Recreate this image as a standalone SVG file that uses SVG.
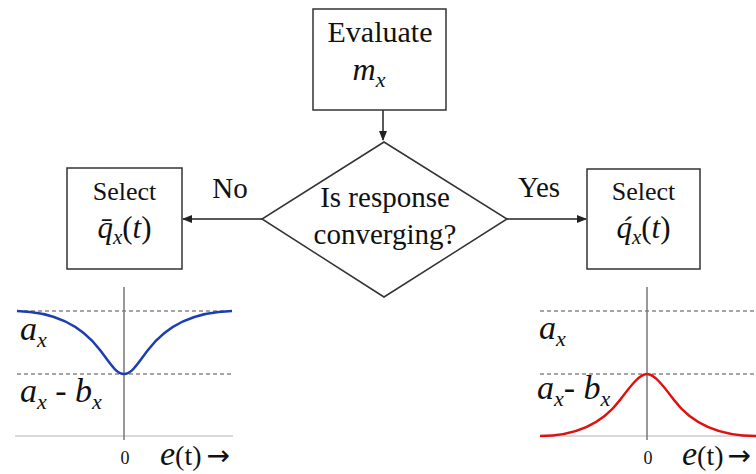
<svg xmlns="http://www.w3.org/2000/svg" width="756" height="474" viewBox="0 0 756 474">
<style>
.box{fill:#fff;stroke:#333;stroke-width:1.5}
.t{font-family:"Liberation Serif",serif;fill:#111}
.m{font-family:"Liberation Serif",serif;font-style:italic;fill:#111}
.arr{font-family:"DejaVu Sans",sans-serif;font-style:normal;font-size:28px}
.dash{stroke:#888;stroke-width:1.5;stroke-dasharray:4 3;fill:none}
.ax{stroke:#777;stroke-width:1.5;fill:none}
.base{stroke:#ccc;stroke-width:1.5;fill:none}
.con{stroke:#222;stroke-width:1.5;fill:none;marker-end:url(#ah)}
</style>
<defs>
<marker id="ah" markerWidth="10" markerHeight="10" refX="9" refY="5" orient="auto" markerUnits="userSpaceOnUse">
<path d="M0,1 L10,5 L0,9 Z" fill="#222"/>
</marker>
</defs>
<rect width="756" height="474" fill="#fff"/>
<g id="connectors">
<line class="con" x1="383" y1="110" x2="383" y2="140"/>
<line class="con" x1="262" y1="219" x2="183" y2="219"/>
<line class="con" x1="507" y1="219" x2="586" y2="219"/>
<text class="t" x="230" y="198" font-size="29" text-anchor="middle">No</text>
<text class="t" x="539" y="197" font-size="29" text-anchor="middle">Yes</text>
</g>
<g id="evaluate">
<rect class="box" x="313" y="9" width="133" height="101"/>
<text class="t" x="380" y="42" font-size="30" text-anchor="middle">Evaluate</text>
<text class="m" x="369" y="80" font-size="32" text-anchor="middle">m<tspan font-size="22" dy="7">x</tspan></text>
</g>
<g id="decision">
<polygon class="box" points="384,142 507,219 384,297 262,219"/>
<text class="t" x="385" y="207" font-size="29" text-anchor="middle">Is response</text>
<text class="t" x="385" y="244" font-size="29" text-anchor="middle">converging?</text>
</g>
<g id="select-no">
<rect class="box" x="67" y="168" width="115" height="101"/>
<text class="t" x="124.5" y="200" font-size="26" text-anchor="middle">Select</text>
<text class="m" x="124.5" y="238" font-size="31" text-anchor="middle">q̄<tspan font-size="21" dy="6">x</tspan><tspan dy="-6" font-style="normal">(</tspan>t<tspan font-style="normal">)</tspan></text>
</g>
<g id="select-yes">
<rect class="box" x="587" y="169" width="113" height="100"/>
<text class="t" x="643.5" y="200" font-size="26" text-anchor="middle">Select</text>
<text class="m" x="643.5" y="238" font-size="31" text-anchor="middle">q́<tspan font-size="21" dy="6">x</tspan><tspan dy="-6" font-style="normal">(</tspan>t<tspan font-style="normal">)</tspan></text>
</g>
<g id="chart-left">
<line class="dash" x1="17" y1="311" x2="233" y2="311"/>
<line class="dash" x1="17" y1="374" x2="233" y2="374"/>
<line class="base" x1="15" y1="436" x2="233" y2="436"/>
<line class="ax" x1="124" y1="287" x2="124" y2="440"/>
<path d="M17,311 C60,312 85,330 100,350 C110,363 116,374 124,374 C132,374 138,363 148,350 C163,330 188,312 232,311" fill="none" stroke="#1c3fb0" stroke-width="2.5"/>
<text class="m" x="20" y="340" font-size="34">a<tspan font-size="22" dy="7">x</tspan></text>
<text class="m" x="20" y="402" font-size="34">a<tspan font-size="22" dy="7">x</tspan><tspan dy="-7" font-style="normal"> - </tspan>b<tspan font-size="22" dy="7">x</tspan></text>
<text class="t" x="125" y="464" font-size="18" text-anchor="middle">0</text>
<text class="m" x="160" y="465" font-size="34">e<tspan font-style="normal" font-size="28">(t)</tspan><tspan class="arr" dx="5">→</tspan></text>
</g>
<g id="chart-right">
<line class="dash" x1="540" y1="311" x2="756" y2="311"/>
<line class="dash" x1="540" y1="374" x2="756" y2="374"/>
<line class="base" x1="540" y1="436" x2="756" y2="436"/>
<line class="ax" x1="647" y1="287" x2="647" y2="440"/>
<path d="M540,436 C580,436 605,420 620,400 C632,384 640,374 647,374 C654,374 662,384 674,400 C689,420 714,436 756,436" fill="none" stroke="#e01010" stroke-width="2.5"/>
<text class="m" x="539" y="339" font-size="34">a<tspan font-size="22" dy="7">x</tspan></text>
<text class="m" x="537" y="399" font-size="34">a<tspan font-size="22" dy="7">x</tspan><tspan dy="-7" font-style="normal">- </tspan>b<tspan font-size="22" dy="7">x</tspan></text>
<text class="t" x="648" y="464" font-size="18" text-anchor="middle">0</text>
<text class="m" x="682" y="465" font-size="34">e<tspan font-style="normal" font-size="28">(t)</tspan><tspan class="arr" dx="4">→</tspan></text>
</g>
</svg>
